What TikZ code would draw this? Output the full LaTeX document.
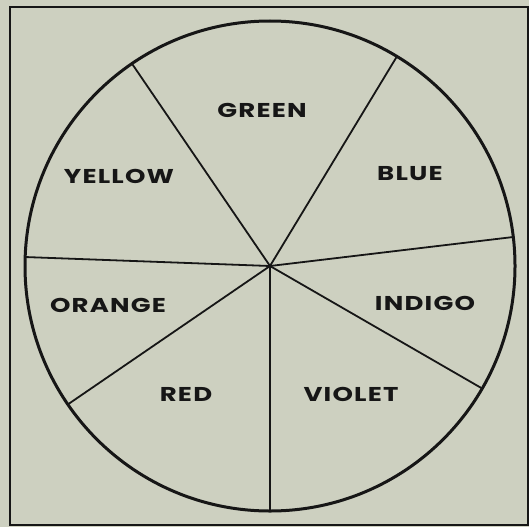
\documentclass[tikz,border=0pt]{standalone}
\usepackage{fontspec}
\newfontfamily\lab[FakeStretch=1.3,LetterSpace=6]{Poppins}
\definecolor{paper}{HTML}{CDD0C0}
\definecolor{ink}{HTML}{161616}
\begin{document}
\begin{tikzpicture}[x=1pt,y=-1pt,
  frame/.style={draw=ink,line width=2.4pt},
  rim/.style={draw=ink,line width=3pt},
  spoke/.style={draw=ink,line width=1.8pt},
  colname/.style={text=ink,font=\lab\bfseries\fontsize{20}{20}\selectfont,inner sep=0pt,anchor=center}]
\fill[paper] (0,0) rectangle (529,527);
\useasboundingbox (0,0) rectangle (529,527);
\draw[frame] (10,7) -- (528,7) -- (528,525) -- (10,525) -- cycle;
\coordinate (c) at (270,266);
\draw[rim] (c) circle[radius=245];
\path (c) ++(-124.3:245) coordinate (p1);
\path (c) ++(-58.8:245) coordinate (p2);
\path (c) ++(-6.8:245) coordinate (p3);
\path (c) ++(30:245) coordinate (p4);
\path (c) ++(90:245) coordinate (p5);
\path (c) ++(145.6:245) coordinate (p6);
\path (c) ++(-177.9:245) coordinate (p7);
\foreach \p in {p1,p2,p3,p4,p5,p6,p7}{\draw[spoke] (c) -- (\p);}
\fill[ink] (c) circle[radius=2.2];
\node[colname] (green) at (262,110) {GREEN};
\node[colname] (yellow) at (119,176) {YELLOW};
\node[colname] (blue) at (410,174) {BLUE};
\node[colname] (orange) at (108,305) {ORANGE};
\node[colname] (indigo) at (425,303) {INDIGO};
\node[colname] (red) at (186,394) {RED};
\node[colname] (violet) at (351,394) {VIOLET};
\end{tikzpicture}
\end{document}
